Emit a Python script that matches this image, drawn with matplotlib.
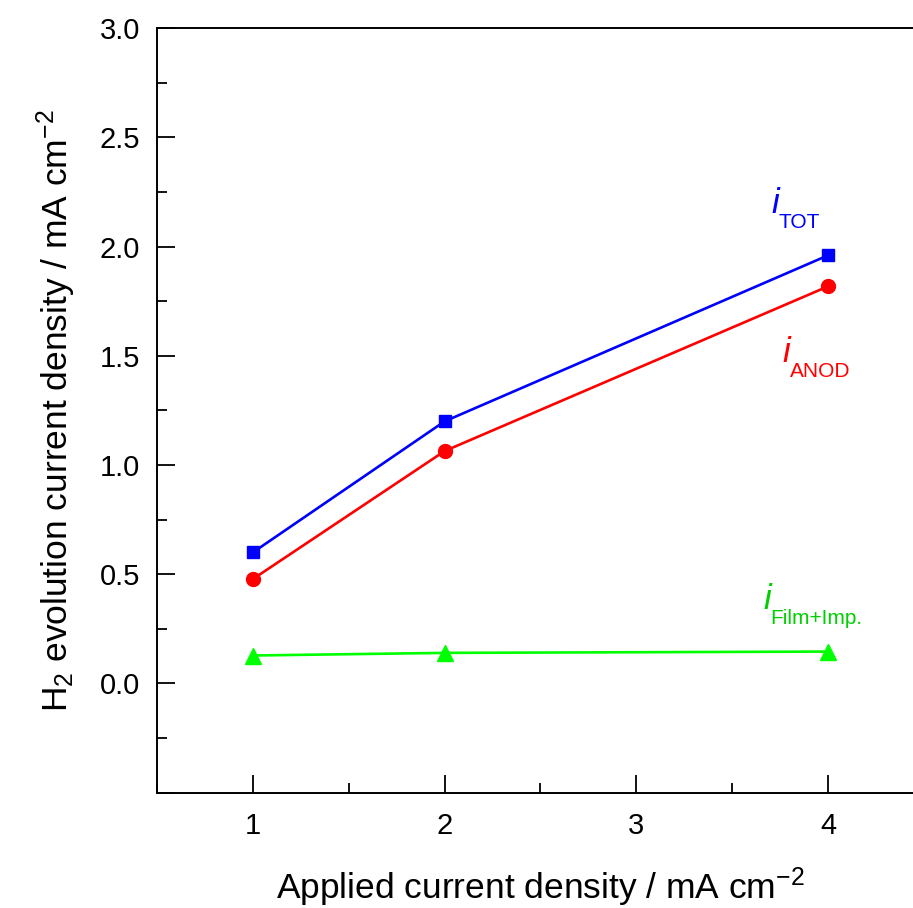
"""H2 evolution current density vs applied current density."""

import matplotlib
matplotlib.use("Agg")
import matplotlib.pyplot as plt
from matplotlib.ticker import MultipleLocator
from matplotlib.transforms import offset_copy

plt.rcParams["font.family"] = ["Liberation Sans", "DejaVu Sans"]
plt.rcParams["mathtext.fontset"] = "custom"
plt.rcParams["mathtext.rm"] = "Liberation Sans"
plt.rcParams["mathtext.it"] = "Liberation Sans:italic"

# --------------------------------------------------------------------------- #
# Dati
# --------------------------------------------------------------------------- #
applied = [1, 2, 4]
i_tot = [0.60, 1.20, 1.96]
i_anod = [0.478, 1.064, 1.818]
i_film = [0.128, 0.140, 0.146]

sub_labels = ["TOT", "ANOD", "Film+Imp."]
label_colors = ["#0000ff", "#ff0000", "#00d000"]
# posizione (dati) della linea di base del pedice
label_xy = [(3.74, 2.087), (3.80, 1.402), (3.70, 0.274)]

fig = plt.figure(figsize=(9.13, 9.08), dpi=100)
ax = fig.add_axes([0.172, 0.127, 0.84, 0.842])

ax.plot(applied, i_tot, "-s", color="#0000ff", lw=1.9, ms=9)
ax.plot(applied, i_anod, "-o", color="#ff0000", lw=1.9, ms=10)
ax.plot(applied, i_film, "-^", color="#00ff00", lw=1.9, ms=11)

# etichette "i" corsiva + pedice (stile Origin)
i_trans = offset_copy(ax.transData, fig=fig, x=-7, y=15, units="dots")
for sub, col, (x, y) in zip(sub_labels, label_colors, label_xy):
    ax.text(x, y, sub, color=col, fontsize=15, ha="left", va="baseline")
    ax.text(x, y, "i", color=col, fontsize=25, style="italic",
            ha="left", va="baseline", transform=i_trans)

ax.set_xlim(0.5, 4.5)
ax.set_ylim(-0.5, 3.0)
ax.xaxis.set_major_locator(MultipleLocator(1))
ax.xaxis.set_minor_locator(MultipleLocator(0.5))
ax.yaxis.set_major_locator(MultipleLocator(0.5))
ax.yaxis.set_minor_locator(MultipleLocator(0.25))
ax.tick_params(which="both", direction="in", labelsize=21, width=1.3,
               top=False, right=False)
ax.tick_params(axis="y", pad=12)
ax.tick_params(axis="x", pad=14)
ax.tick_params(which="major", length=13)
ax.tick_params(which="minor", length=7)
ax.xaxis.set_major_formatter(plt.FuncFormatter(lambda v, _: f"{v:.0f}"))
ax.yaxis.set_major_formatter(plt.FuncFormatter(lambda v, _: "" if v < 0 else f"{v:.1f}"))
for sp in ax.spines.values():
    sp.set_linewidth(1.4)

ax.set_xlabel(r"Applied current density / mA cm$^{\mathregular{-2}}$", fontsize=25.5, labelpad=18)
ax.set_ylabel(r"H$_\mathregular{2}$ evolution current density / mA cm$^{\mathregular{-2}}$",
              fontsize=25.5, labelpad=16)

fig.savefig("out.png", dpi=100)
